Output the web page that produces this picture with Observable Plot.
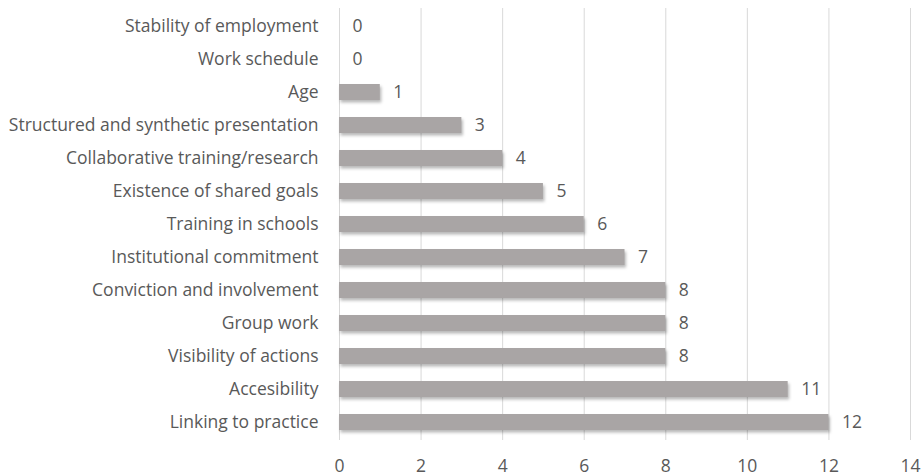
<!DOCTYPE html>
<html>
<head>
<meta charset="utf-8">
<script src="https://cdn.jsdelivr.net/npm/d3@7"></script>
<script src="https://cdn.jsdelivr.net/npm/@observablehq/plot@0.6"></script>
<style>
  html, body { margin: 0; padding: 0; background: #fff; }
  #chart svg { display: block; }
</style>
</head>
<body>
<div id="chart"></div>
<script>
const categories = [
  "Stability of employment",
  "Work schedule",
  "Age",
  "Structured and synthetic presentation",
  "Collaborative training/research",
  "Existence of shared goals",
  "Training in schools",
  "Institutional commitment",
  "Conviction and involvement",
  "Group work",
  "Visibility of actions",
  "Accesibility",
  "Linking to practice"
];
const values = [0, 0, 1, 3, 4, 5, 6, 7, 8, 8, 8, 11, 12];
const xTicks = [0, 2, 4, 6, 8, 10, 12, 14];

const data = categories.map((c, i) => ({category: c, value: values[i]}));

const textColor = "#595959";
const fs = 17.5;

const chart = Plot.plot({
  width: 922,
  height: 476,
  marginLeft: 339,
  marginRight: 12,
  marginTop: 8,
  marginBottom: 36,
  style: {fontFamily: "'Open Sans', sans-serif", fontSize: fs + "px", color: textColor, background: "#fff"},
  x: {domain: [0, 14], ticks: xTicks, tickSize: 0, tickPadding: 19, label: null},
  y: {domain: categories, paddingInner: 0.52, paddingOuter: 0.26, tickSize: 0, tickPadding: 21, label: null},
  marks: [
    Plot.gridX(xTicks, {stroke: "#d9d9d9", strokeOpacity: 1, strokeWidth: 1}),
    Plot.ruleX([0], {stroke: "#d9d9d9", strokeWidth: 1}),
    // soft shadow under the bars
    Plot.barX(data, {x: "value", y: "category", fill: "#000", fillOpacity: 0.28, dx: 1.5, dy: 2.5, imageFilter: "blur(1.5px)"}),
    Plot.barX(data, {x: "value", y: "category", fill: "#a9a5a5"}),
    Plot.text(data, {x: "value", y: "category", text: d => String(d.value), textAnchor: "start", dx: 13, fill: textColor, fontSize: fs}),
    Plot.axisX({ticks: xTicks, tickSize: 0, tickPadding: 19, fontSize: fs, fill: textColor}),
    Plot.axisY({tickSize: 0, tickPadding: 21, fontSize: fs, fill: textColor})
  ]
});
document.getElementById("chart").appendChild(chart);
</script>
</body>
</html>
